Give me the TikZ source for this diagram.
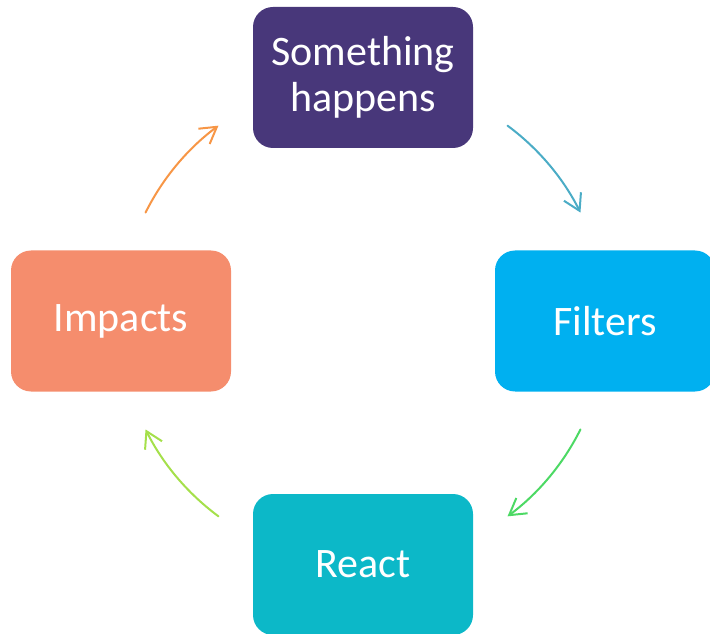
\documentclass[tikz,border=0pt]{standalone}
\usepackage{fontspec}
\setmainfont{Carlito}
\usetikzlibrary{arrows.meta}

\definecolor{happenpurple}{HTML}{48377A}
\definecolor{filterblue}{HTML}{00B0F0}
\definecolor{reactteal}{HTML}{0CB8C8}
\definecolor{impactsalmon}{HTML}{F58D6D}
\definecolor{arrteal}{HTML}{4BACC6}
\definecolor{arrgreen}{HTML}{4CD964}
\definecolor{arrlime}{HTML}{A5E04B}
\definecolor{arrorange}{HTML}{F79646}

\begin{document}
\begin{tikzpicture}[
  x=1pt, y=1pt,
  font=\fontsize{42}{46}\selectfont,
  box/.style={rounded corners=20pt, minimum width=220pt, minimum height=141pt,
              align=center, text=white, inner sep=0pt},
  arr/.style={-{Straight Barb[length=16pt, width=19pt]}, line width=2pt, line cap=round}
]
\useasboundingbox (0,0) rectangle (710,633);

% ---------- Stages ----------
\node[box, fill=happenpurple] (happens) at (363,555.5) {Something\\ happens};
\node[box, fill=filterblue]   (filters) at (605,312)   {Filters};
\node[box, fill=reactteal]    (react)   at (363,68.5)  {React};
\node[box, fill=impactsalmon] (impacts) at (121,312)   {Impacts};

% ---------- Cycle arrows (arcs round the hub) ----------
\coordinate (hub) at (happens |- impacts);
\draw[arr, arrteal]   ([shift={(53.5:243)}]hub)  arc[start angle=53.5,  end angle=26.5,  radius=243];
\draw[arr, arrgreen]  ([shift={(-26.5:243)}]hub) arc[start angle=-26.5, end angle=-53.5, radius=243];
\draw[arr, arrlime]   ([shift={(-126.5:243)}]hub) arc[start angle=-126.5, end angle=-153.5, radius=243];
\draw[arr, arrorange] ([shift={(153.5:243)}]hub) arc[start angle=153.5, end angle=126.5, radius=243];
\end{tikzpicture}
\end{document}
